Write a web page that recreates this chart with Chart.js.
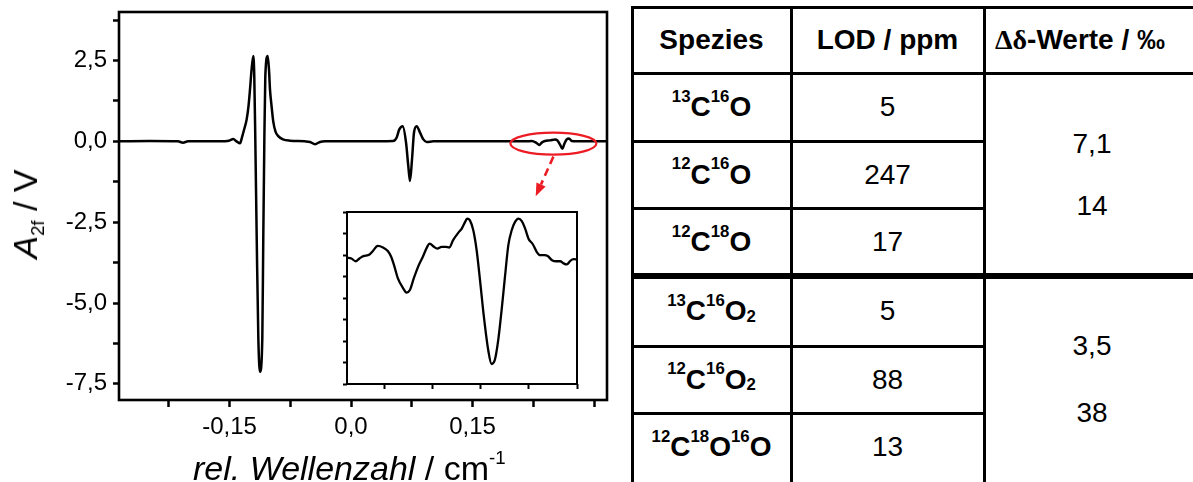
<!DOCTYPE html>
<html>
<head>
<meta charset="utf-8">
<script src="https://cdn.jsdelivr.net/npm/chart.js@4.4.0/dist/chart.umd.min.js"></script>
<style>
  body { margin: 0; background: #fff; width: 1193px; height: 482px; overflow: hidden; position: relative;
         font-family: "Liberation Sans", Arial, sans-serif; color: #000; }
  #main { position: absolute; left: 0; top: 0; }
  #inset { position: absolute; left: 337px; top: 205px; }
  .title { position: absolute; white-space: nowrap; line-height: 1; font-size: 34px; }
  .title sub, .title sup { font-size: 55%; vertical-align: 0; position: relative; }
  .title sub { top: 0.35em; }
  .title sup { top: -0.85em; }
  #ytitle { left: 25px; top: 214px; transform: translate(-50%, -50%) rotate(-90deg); }
  #xtitle { left: 193px; top: 451px; }
  .line { position: absolute; background: #000; }
  .cell { position: absolute; display: flex; align-items: center; justify-content: center;
          font-size: 28px; white-space: nowrap; }
  .cell.bold { font-weight: bold; }
  .cell sup, .cell sub { font-size: 60%; vertical-align: 0; position: relative; }
  .cell sup { top: -0.6em; }
  .cell sub { top: 0.35em; }
  .greek { font-family: "Liberation Serif", "DejaVu Serif", serif; font-weight: bold; }
  .stack { flex-direction: column; }
</style>
</head>
<body>
<canvas id="main" width="625" height="482"></canvas>
<canvas id="inset" width="250" height="190"></canvas>
<div id="ytitle" class="title"><i>A</i><sub>2f</sub> / V</div>
<div id="xtitle" class="title"><i>rel. Wellenzahl</i> / cm<sup>-1</sup></div>
<div id="table"></div>

<script>
// spectrum, rel. wavenumber in cm-1
const waveX = [
  -0.2864, -0.2481, -0.2136, -0.2074, -0.2012, -0.1617, -0.1506, -0.1453, -0.1414, -0.1370,
  -0.1346, -0.1321, -0.1288, -0.1265, -0.1247, -0.1228, -0.1206, -0.1194, -0.1181, -0.1164,
  -0.1144, -0.1123, -0.1095, -0.1083, -0.1070, -0.1058, -0.1028, -0.1012, -0.1000, -0.0981,
  -0.0959, -0.0932, -0.0898, -0.0840, -0.0753, -0.0568, -0.0506, -0.0444, -0.0383, -0.0321,
  0.0111, 0.0519, 0.0564, 0.0596, 0.0638, 0.0679, 0.0707, 0.0728, 0.0753, 0.0778,
  0.0811, 0.0852, 0.0893, 0.0935, 0.1016, 0.1593, 0.2160, 0.2231, 0.2284, 0.2325,
  0.2354, 0.2395, 0.2457, 0.2519, 0.2547, 0.2580, 0.2609, 0.2633, 0.2663, 0.2691,
  0.2725, 0.2786, 0.3160
];
// A2f in V
const signal = [
  0, 0.01, 0, -0.04, 0, 0, 0.02, 0.07, 0.0, -0.06,
  0.12, 0.35, 0.68, 1.1, 1.6, 2.2, 2.64, 2.0, 0.0, -3.0,
  -6.1, -7.13, -6.1, -3.0, 0.0, 2.0, 2.64, 2.2, 1.6, 1.1,
  0.6, 0.3, 0.16, 0.06, 0.02, 0, -0.02, -0.09, -0.02, 0,
  0, 0.01, 0.12, 0.37, 0.47, -0.03, -0.76, -1.23, -0.56, 0.28,
  0.47, 0.27, 0.06, -0.02, 0, 0, 0, 0.01, -0.04, -0.11,
  -0.04, 0.01, 0.03, 0.06, 0.03, -0.1, -0.23, -0.08, 0.06, 0.09,
  0.01, 0, 0
];

// inset: zoom of the marked region (arbitrary units)
const insetX = [
  -0.79, -0.70, -0.61, -0.53, -0.45, -0.32, -0.25, -0.15, -0.04, 0.06,
  0.13, 0.20, 0.27, 0.38, 0.45, 0.52, 0.60, 0.69, 0.79, 0.88,
  0.93, 1.02, 1.09, 1.18, 1.27, 1.34, 1.42, 1.53, 1.60, 1.67,
  1.71, 1.77, 1.84, 1.91, 1.98, 2.06, 2.15, 2.22, 2.29, 2.36,
  2.43, 2.50, 2.57, 2.64, 2.71, 2.78, 2.85, 2.92, 2.99, 3.08,
  3.16, 3.23, 3.32, 3.39, 3.48, 3.57, 3.65, 3.72, 3.79, 3.86,
  3.93, 4.00
];
const insetY = [
  5.88, 5.84, 5.71, 5.84, 5.95, 6.02, 6.19, 6.42, 6.35, 6.19,
  5.92, 5.45, 4.91, 4.45, 4.25, 4.37, 4.91, 5.45, 5.92, 6.38,
  6.53, 6.38, 6.30, 6.38, 6.38, 6.35, 6.69, 7.04, 7.23, 7.54,
  7.69, 7.61, 7.15, 6.22, 4.83, 3.14, 1.59, 0.93, 1.13, 2.05,
  3.44, 4.99, 6.46, 7.15, 7.54, 7.69, 7.58, 7.23, 6.76, 6.50,
  6.15, 5.99, 5.99, 5.95, 5.76, 5.71, 5.71, 5.61, 5.56, 5.73,
  5.81, 5.79
];

const xLabelValues = [-0.15, 0, 0.15];
const yLabelStep = 2.5;

// red marker: ellipse around the small lines, arrow down to the inset
const markCenter = { x: 0.2498, y: -0.07 };
const arrowTip = { x: 0.228, y: -1.70 };

// table
const tableHeaders = ['Spezies', 'LOD / ppm', '<span class="greek">Δδ</span>-Werte / ‰'];
const species = [
  '<sup>13</sup>C<sup>16</sup>O',
  '<sup>12</sup>C<sup>16</sup>O',
  '<sup>12</sup>C<sup>18</sup>O',
  '<sup>13</sup>C<sup>16</sup>O<sub>2</sub>',
  '<sup>12</sup>C<sup>16</sup>O<sub>2</sub>',
  '<sup>12</sup>C<sup>18</sup>O<sup>16</sup>O'
];
const lodPpm = ['5', '247', '17', '5', '88', '13'];
const deltaCO = ['7,1', '14'];
const deltaCO2 = ['3,5', '38'];

Chart.defaults.font.family = "'Liberation Sans', Arial, sans-serif";
Chart.defaults.color = '#000';

const framePlugin = {
  id: 'frame',
  afterDatasetsDraw(chart, args, opts) {
    const a = chart.chartArea;
    const ctx = chart.ctx;
    ctx.save();
    ctx.strokeStyle = '#000';
    ctx.lineWidth = opts.width || 2.5;
    ctx.strokeRect(a.left, a.top, a.right - a.left, a.bottom - a.top);
    ctx.restore();
  }
};

const markPlugin = {
  id: 'mark',
  afterDatasetsDraw(chart) {
    const xs = chart.scales.x, ys = chart.scales.y;
    const ctx = chart.ctx;
    const cx = xs.getPixelForValue(markCenter.x);
    const cy = ys.getPixelForValue(markCenter.y);
    const rx = 43, ry = 11;
    ctx.save();
    ctx.strokeStyle = '#ec1c24';
    ctx.fillStyle = '#ec1c24';
    ctx.lineWidth = 2.2;
    ctx.beginPath();
    ctx.ellipse(cx, cy, rx, ry, 0, 0, Math.PI * 2);
    ctx.stroke();

    const sx = cx, sy = cy + ry + 2;
    const tx = xs.getPixelForValue(arrowTip.x);
    const ty = ys.getPixelForValue(arrowTip.y);
    const len = Math.hypot(tx - sx, ty - sy);
    const ux = (tx - sx) / len, uy = (ty - sy) / len;
    const head = 13, half = 5;
    const bx = tx - ux * head, by = ty - uy * head;
    ctx.lineWidth = 2.6;
    ctx.setLineDash([8, 5]);
    ctx.beginPath();
    ctx.moveTo(sx, sy);
    ctx.lineTo(bx, by);
    ctx.stroke();
    ctx.setLineDash([]);
    ctx.beginPath();
    ctx.moveTo(tx, ty);
    ctx.lineTo(bx - uy * half, by + ux * half);
    ctx.lineTo(bx + uy * half, by - ux * half);
    ctx.closePath();
    ctx.fill();
    ctx.restore();
  }
};

function sameValue(a, b) { return Math.abs(a - b) < 1e-6; }
function noPad(s) { s.paddingTop = 0; s.paddingBottom = 0; s.paddingLeft = 0; s.paddingRight = 0; }

new Chart(document.getElementById('main'), {
  type: 'line',
  data: {
    datasets: [{
      data: waveX.map((x, i) => ({ x: x, y: signal[i] })),
      borderColor: '#000',
      borderWidth: 2.5,
      pointRadius: 0,
      cubicInterpolationMode: 'monotone',
      fill: false
    }]
  },
  options: {
    responsive: false,
    animation: false,
    layout: { padding: { left: 0, top: 12, right: 18, bottom: 0 } },
    plugins: { legend: { display: false }, tooltip: { enabled: false }, frame: { width: 2.6 } },
    scales: {
      x: {
        type: 'linear',
        min: -0.2864,
        max: 0.316,
        afterFit: s => { s.height = 82; noPad(s); },
        border: { display: false },
        grid: { drawOnChartArea: false, drawTicks: true, tickLength: 7, tickWidth: 2.5, tickColor: '#000' },
        ticks: {
          stepSize: 0.075,
          includeBounds: false,
          autoSkip: false,
          maxRotation: 0,
          padding: 6,
          font: { size: 24 },
          callback: v => {
            if (!xLabelValues.some(l => sameValue(l, v))) return '';
            return sameValue(v, 0) ? '0,0' : v.toFixed(2).replace('.', ',');
          }
        }
      },
      y: {
        min: -8,
        max: 4,
        afterFit: s => { s.width = 119; noPad(s); },
        border: { display: false },
        grid: { drawOnChartArea: false, drawTicks: true, tickLength: 6, tickWidth: 2.5, tickColor: '#000' },
        ticks: {
          stepSize: 1.25,
          includeBounds: false,
          autoSkip: false,
          padding: 6,
          font: { size: 24 },
          callback: v => {
            const k = v / yLabelStep;
            if (!sameValue(k, Math.round(k))) return '';
            return (sameValue(v, 0) ? 0 : v).toFixed(1).replace('.', ',');
          }
        }
      }
    }
  },
  plugins: [framePlugin, markPlugin]
});

new Chart(document.getElementById('inset'), {
  type: 'line',
  data: {
    datasets: [{
      data: insetX.map((x, i) => ({ x: x, y: insetY[i] })),
      borderColor: '#000',
      borderWidth: 2.3,
      pointRadius: 0,
      cubicInterpolationMode: 'monotone',
      fill: false
    }]
  },
  options: {
    responsive: false,
    animation: false,
    layout: { padding: { left: 0, top: 7, right: 10, bottom: 0 } },
    plugins: { legend: { display: false }, tooltip: { enabled: false }, frame: { width: 2 } },
    scales: {
      x: {
        type: 'linear', min: -0.79, max: 4,
        afterFit: s => { s.height = 11; noPad(s); },
        border: { display: false },
        grid: { drawOnChartArea: false, tickLength: 5, tickWidth: 2, tickColor: '#000' },
        ticks: { stepSize: 1, includeBounds: false, autoSkip: false, maxRotation: 0, callback: () => '' }
      },
      y: {
        min: 0, max: 8,
        afterFit: s => { s.width = 10; noPad(s); },
        border: { display: false },
        grid: { drawOnChartArea: false, tickLength: 4, tickWidth: 2, tickColor: '#000' },
        ticks: { stepSize: 1, includeBounds: false, autoSkip: false, callback: () => '' }
      }
    }
  },
  plugins: [framePlugin]
});

// table built from absolute boxes
const colEdges = [632, 791, 984, 1200];
const rowEdges = [7, 73, 141, 208, 276, 346, 413, 481];
const table = document.getElementById('table');

function addLine(x, y, w, h) {
  const d = document.createElement('div');
  d.className = 'line';
  d.style.left = x + 'px'; d.style.top = y + 'px';
  d.style.width = w + 'px'; d.style.height = h + 'px';
  table.appendChild(d);
}
function addCell(x0, x1, y0, y1, html, cls, extra) {
  const d = document.createElement('div');
  d.className = 'cell ' + (cls || '');
  d.style.left = x0 + 'px'; d.style.top = y0 + 'px';
  d.style.width = (x1 - x0) + 'px'; d.style.height = (y1 - y0) + 'px';
  d.innerHTML = html;
  if (extra) Object.assign(d.style, extra);
  table.appendChild(d);
  return d;
}

const lw = 3;
colEdges.slice(0, 3).forEach(x => addLine(x - lw / 2, rowEdges[0] - lw / 2, lw, 500));
addLine(colEdges[0] - lw / 2, rowEdges[0] - lw / 2, 600, lw);
addLine(colEdges[0] - lw / 2, rowEdges[1] - lw / 2, 600, lw);
addLine(colEdges[0] - lw / 2, rowEdges[4] - 3, 600, 6);
[2, 3, 5, 6].forEach(r => addLine(colEdges[0] - lw / 2, rowEdges[r] - lw / 2, colEdges[2] - colEdges[0] + lw, lw));

addCell(colEdges[0], colEdges[1], rowEdges[0], rowEdges[1], tableHeaders[0], 'bold');
addCell(colEdges[1], colEdges[2], rowEdges[0], rowEdges[1], tableHeaders[1], 'bold');
addCell(colEdges[2], colEdges[3], rowEdges[0], rowEdges[1], tableHeaders[2], 'bold', { paddingRight: '24px', boxSizing: 'border-box' });

species.forEach((s, i) => {
  addCell(colEdges[0], colEdges[1], rowEdges[i + 1], rowEdges[i + 2], s, 'bold');
  addCell(colEdges[1], colEdges[2], rowEdges[i + 1], rowEdges[i + 2], lodPpm[i], '');
});

addCell(colEdges[2], colEdges[3], rowEdges[1], rowEdges[4],
  deltaCO.map(v => '<div style="line-height:62px">' + v + '</div>').join(''), 'stack');
addCell(colEdges[2], colEdges[3], rowEdges[4], rowEdges[7],
  deltaCO2.map(v => '<div style="line-height:67px">' + v + '</div>').join(''), 'stack');
</script>
</body>
</html>
